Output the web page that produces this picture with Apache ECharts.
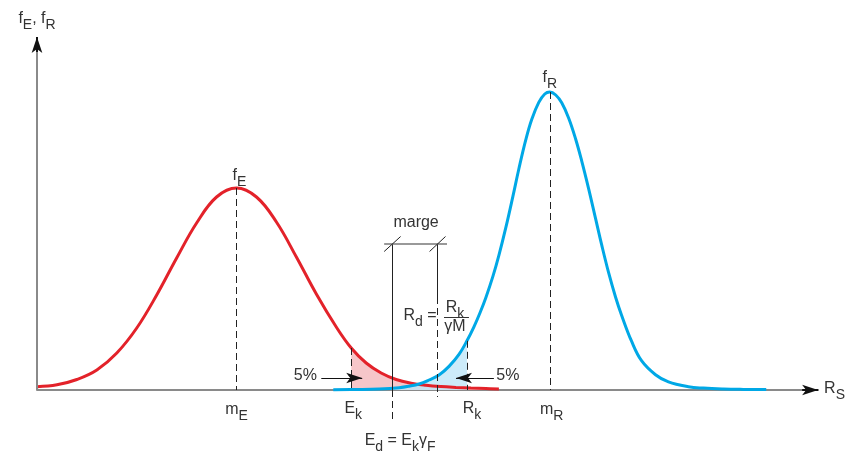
<!DOCTYPE html>
<html>
<head>
<meta charset="utf-8">
<script src="https://cdn.jsdelivr.net/npm/echarts@6/dist/echarts.min.js"></script>
<style>
  html, body { margin: 0; padding: 0; background: #fff; }
  #main { width: 848px; height: 451px; }
</style>
</head>
<body>
<div id="main"></div>
<script>
// red curve f_E (x = position along R_S, y = density height)
var redX = [37, 57, 77, 97, 117, 137, 157, 177, 197, 217, 237,
            257, 277, 297, 317, 337, 352, 367, 382, 397, 412, 427, 442, 457, 472, 487, 500];
var redY = [3.3, 5.2, 10.5, 20, 37, 62, 95, 132, 167, 193, 202,
            193, 168, 133, 96, 63, 42, 27, 17, 10.5, 6.8, 4.7, 3.4, 2.6, 2, 1.5, 1.1];

// blue curve f_R
var blueX = [334, 360, 380, 400, 410, 420, 430, 440, 450, 460, 468, 475, 481, 487, 494, 500, 507, 514, 520, 527,
             533, 540, 546, 551, 557, 563, 570, 577, 583, 590, 597, 603, 610, 617, 623, 633, 643, 657, 670, 690,
             705, 725, 745, 768];
var blueY = [0.3, 0.5, 1.0, 2.3, 3.8, 6, 10, 15, 23.6, 35.6, 49.2, 63.2, 77, 92.6, 113.6, 134.6, 162.6, 193.4, 221, 250.4,
             270.8, 287.6, 296, 298, 295, 287.2, 271.8, 250.8, 229.2, 201.2, 171.1, 145.3, 117.3, 92.8, 74.8, 48.8, 29.3, 15.3, 8.1, 3.3,
             1.9, 1.0, 0.6, 0.4];

// characteristic positions on the R_S axis
var mE = 237, mR = 551, Ek = 352, Rk = 468, Ed = 393, Rd = 438;

function pairs(xs, ys, lo, hi) {
  var out = [];
  for (var i = 0; i < xs.length; i++) {
    if (xs[i] >= lo && xs[i] <= hi) out.push([xs[i], ys[i]]);
  }
  return out;
}
var peakE = redY[redX.indexOf(mE)];
var peakR = blueY[blueX.indexOf(mR)];
var ekY = redY[redX.indexOf(Ek)];
var rkY = blueY[blueX.indexOf(Rk)];

var txt = '#333';
var font = '"Liberation Sans", Arial, sans-serif';
var rich = {
  b: { fontSize: 16, lineHeight: 18, verticalAlign: 'top', color: txt, fontFamily: font },
  s: { fontSize: 14, lineHeight: 16, verticalAlign: 'top', padding: [7, 0, 0, 0], color: txt, fontFamily: font }
};

function lbl(x, y, f) {
  return { coord: [x, y], label: { formatter: f } };
}
function seg(a, b, style) {
  return [{ coord: a, lineStyle: style }, { coord: b }];
}
function arrow(a, b, size, w) {
  return [{ coord: a, symbolSize: size, lineStyle: { color: '#111', width: w, type: 'solid' } }, { coord: b }];
}
var dash = { color: '#222', width: 1, type: [7, 4] };
var solid = { color: '#222', width: 1, type: 'solid' };

var myChart = echarts.init(document.getElementById('main'));
var option = {
  animation: false,
  grid: { left: 37, right: 28, top: 37, bottom: 0 },
  xAxis: {
    type: 'value', min: 37, max: 820,
    name: '{b|R}{s|S}', nameLocation: 'end', nameGap: 6,
    nameTextStyle: { rich: rich },
    axisLine: { show: true, onZero: true, lineStyle: { color: '#8a8a8a', width: 2 } },
    axisTick: { show: false }, axisLabel: { show: false }, splitLine: { show: false }
  },
  yAxis: {
    type: 'value', min: -61, max: 353,
    name: '{b|f}{s|E}{b|, f}{s|R}', nameLocation: 'end', nameGap: 8,
    nameTextStyle: { rich: rich, align: 'center' },
    axisLine: { show: false },
    axisTick: { show: false }, axisLabel: { show: false }, splitLine: { show: false }
  },
  series: [
    {
      name: 'shadeE', type: 'line', smooth: 0.4, showSymbol: false, z: 1,
      data: pairs(redX, redY, Ek, 9999),
      lineStyle: { width: 0 },
      areaStyle: { color: '#f6c6c9', opacity: 1 }
    },
    {
      name: 'shadeR', type: 'line', smooth: 0.4, showSymbol: false, z: 1,
      data: pairs(blueX, blueY, 0, Rk),
      lineStyle: { width: 0 },
      areaStyle: { color: '#bfe6f7', opacity: 0.8 }
    },
    {
      name: 'fE', type: 'line', smooth: 0.4, showSymbol: false, z: 3,
      data: pairs(redX, redY, 0, 9999),
      lineStyle: { color: '#e3222a', width: 3 }
    },
    {
      name: 'fR', type: 'line', smooth: 0.4, showSymbol: false, z: 4,
      data: pairs(blueX, blueY, 0, 9999),
      lineStyle: { color: '#00a8e6', width: 3 },
      markLine: {
        silent: true, symbol: 'none', label: { show: false },
        data: [
          // y axis line
          seg([37, 0], [37, 353], { color: '#8a8a8a', width: 2, type: 'solid' }),
          // reference lines
          seg([mE, peakE], [mE, 0], dash),
          seg([mR, peakR], [mR, 0], dash),
          seg([Ek, ekY], [Ek, 0], dash),
          seg([Rk, rkY], [Rk, 0], dash),
          seg([Ed, 146], [Ed, 0], solid),
          seg([Ed, 0], [Ed, -33], dash),
          seg([Rd, 146], [Rd, 93], solid),
          seg([Rd, 93], [Rd, -7], dash),
          // marge dimension line
          seg([385, 146], [448, 146], { color: '#777', width: 1.5, type: 'solid' }),
          seg([385, 138.5], [401.5, 153.5], solid),
          seg([430.5, 138.5], [446.5, 153.5], solid),
          // fraction bar
          seg([445, 73], [470, 73], { color: '#333', width: 1, type: 'solid' })
        ]
      },
      markPoint: {
        silent: true, symbol: 'circle', symbolSize: 0,
        label: { show: true, position: 'inside', rich: rich, color: txt },
        data: [
          lbl(mE, -21, '{b|m}{s|E}'),
          lbl(Ek + 2, -20, '{b|E}{s|k}'),
          lbl(Rk + 5, -20, '{b|R}{s|k}'),
          lbl(mR + 2, -21, '{b|m}{s|R}'),
          lbl(401, -52, '{b|E}{s|d}{b| = E}{s|k}{b|γ}{s|F}'),
          lbl(mE + 3, 213, '{b|f}{s|E}'),
          lbl(mR, 311, '{b|f}{s|R}'),
          lbl(417, 166, '{b|marge}'),
          lbl(306, 13, '{b|5%}'),
          lbl(509, 13, '{b|5%}'),
          lbl(421, 73, '{b|R}{s|d}{b| =}'),
          lbl(456, 81, '{b|R}{s|k}'),
          lbl(456, 62, '{b|γM}')
        ]
      }
    },
    {
      name: 'arrows', type: 'line', data: [], z: 5,
      markLine: {
        silent: true, label: { show: false },
        symbol: ['none', 'arrow'],
        data: [
          arrow([37, 338], [37, 353], [10, 17], 2),
          arrow([804, 0], [820, 0], [12, 17], 2),
          arrow([322, 12], [363, 12], [10, 15], 1),
          arrow([495, 12], [457, 12], [10, 15], 1)
        ]
      }
    }
  ]
};
myChart.setOption(option);
</script>
</body>
</html>
